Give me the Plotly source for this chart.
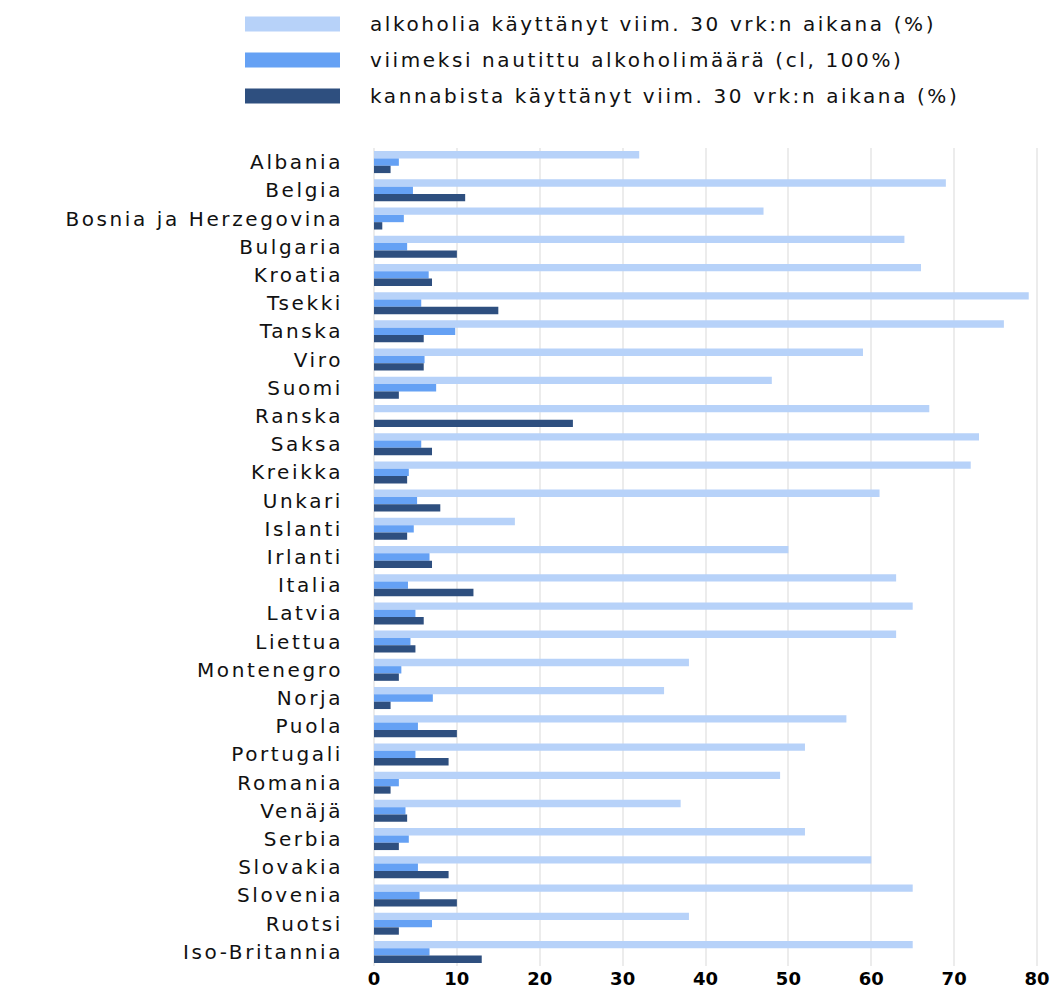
import plotly.graph_objects as go

countries = ["Albania", "Belgia", "Bosnia ja Herzegovina", "Bulgaria", "Kroatia", "Tsekki",
             "Tanska", "Viro", "Suomi", "Ranska", "Saksa", "Kreikka", "Unkari", "Islanti",
             "Irlanti", "Italia", "Latvia", "Liettua", "Montenegro", "Norja", "Puola",
             "Portugali", "Romania", "Venäjä", "Serbia", "Slovakia", "Slovenia", "Ruotsi",
             "Iso-Britannia"]

alcohol_30d = [32, 69, 47, 64, 66, 79, 76, 59, 48, 67, 73, 72, 61, 17, 50, 63, 65, 63,
               38, 35, 57, 52, 49, 37, 52, 60, 65, 38, 65]

alcohol_cl = [3.0, 4.7, 3.6, 4.0, 6.6, 5.7, 9.8, 6.1, 7.5, None, 5.7, 4.2, 5.2, 4.8, 6.7,
              4.1, 5.0, 4.4, 3.3, 7.1, 5.3, 5.0, 3.0, 3.8, 4.2, 5.3, 5.5, 7.0, 6.7]

cannabis_30d = [2, 11, 1, 10, 7, 15, 6, 6, 3, 24, 7, 4, 8, 4, 7, 12, 6, 5, 3, 2, 10, 9,
                2, 4, 3, 9, 10, 3, 13]

series_names = ["alkoholia käyttänyt viim. 30 vrk:n aikana (%)",
                "viimeksi nautittu alkoholimäärä (cl, 100%)",
                "kannabista käyttänyt viim. 30 vrk:n aikana (%)"]
series_colors = ["#b7d2f9", "#65a1f4", "#2e4f7f"]
x_ticks = [0, 10, 20, 30, 40, 50, 60, 70, 80]

SP = "letter-spacing:2.6px"

fig = go.Figure()
for name, vals, col in zip(series_names, [alcohol_30d, alcohol_cl, cannabis_30d], series_colors):
    fig.add_trace(go.Bar(y=countries, x=vals, name=name, orientation="h",
                         marker=dict(color=col, line=dict(width=0)), showlegend=False))

W, H = 1051, 990
ml, mr, mt, mb = 374, 9, 148, 24
pw, ph = W - ml - mr, H - mt - mb

# manual legend with wide swatches
legend_y_px = [24, 60, 96]
for name, col, ypx in zip(series_names, series_colors, legend_y_px):
    yp = (H - mb - ypx) / ph
    hh = 7.5 / ph
    fig.add_shape(type="rect", xref="paper", yref="paper",
                  x0=(245 - ml) / pw, x1=(340 - ml) / pw, y0=yp - hh, y1=yp + hh,
                  fillcolor=col, line=dict(width=0))
    fig.add_annotation(text=f'<span style="{SP}">{name}</span>', xref="paper", yref="paper",
                       x=(368 - ml) / pw, y=yp,
                       xanchor="left", yanchor="middle", showarrow=False,
                       font=dict(family="DejaVu Sans", size=20, color="#111111"))

fig.update_layout(
    width=W, height=H,
    margin=dict(l=ml, r=mr, t=mt, b=mb, autoexpand=False),
    barmode="group", bargap=0.22, bargroupgap=0.0,
    plot_bgcolor="white", paper_bgcolor="white",
    font=dict(family="DejaVu Sans", color="#111111"),
)
fig.update_xaxes(range=[0, 80.6], tickvals=x_ticks, ticktext=[str(v) for v in x_ticks],
                 showgrid=True, gridcolor="#ececec", gridwidth=2,
                 zeroline=True, zerolinecolor="#ececec", zerolinewidth=2,
                 showline=False, ticks="",
                 tickfont=dict(family="DejaVu Sans", size=18, color="#000000", weight="bold"))
fig.update_yaxes(categoryorder="array", categoryarray=countries, autorange="reversed",
                 tickvals=countries,
                 ticktext=[f'<span style="{SP}">{c}</span>' for c in countries],
                 showgrid=False, showline=False, ticks="", ticklabelstandoff=30,
                 tickfont=dict(family="DejaVu Sans", size=20, color="#111111"))

fig.write_html("out.html", config={"displayModeBar": False},
               post_script="document.body.style.margin='0px';")
